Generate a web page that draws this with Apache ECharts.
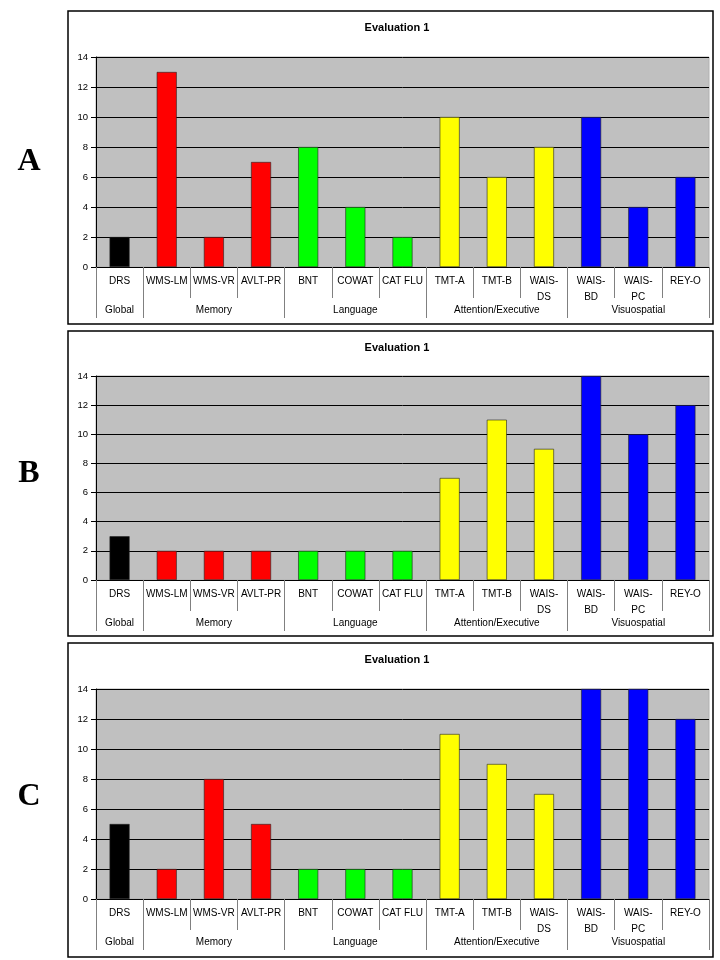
<!DOCTYPE html>
<html>
<head>
<meta charset="utf-8">
<script src="https://cdn.jsdelivr.net/npm/echarts@6/dist/echarts.min.js"></script>
<style>
html,body{margin:0;padding:0;background:#fff;}
#chart{width:720px;height:960px;}
</style>
</head>
<body>
<div id="chart"></div>
<script>
var categories = ['DRS','WMS-LM','WMS-VR','AVLT-PR','BNT','COWAT','CAT FLU','TMT-A','TMT-B','WAIS-DS','WAIS-BD','WAIS-PC','REY-O'];
var categoryGroup = ['Global','Memory','Memory','Memory','Language','Language','Language','Attention/Executive','Attention/Executive','Attention/Executive','Visuospatial','Visuospatial','Visuospatial'];
var groupNames = ['Global','Memory','Language','Attention/Executive','Visuospatial'];
var groupColors = ['#000000','#FF0000','#00FF00','#FFFF00','#0000FF'];
var panelLetters = ['A','B','C'];
var panelTitle = 'Evaluation 1';
var valuesA = [2,13,2,7,8,4,2,10,6,8,10,4,6];
var valuesB = [3,2,2,2,2,2,2,7,11,9,14,10,12];
var valuesC = [5,2,8,5,2,2,2,11,9,7,14,14,12];
var yTicks = [0,2,4,6,8,10,12,14];

var panels = [
  {values: valuesA, box:[68,11,645,313], grid:{top:57, bottom:693}, title:17, letterY:162},
  {values: valuesB, box:[68,331,645,305], grid:{top:376, bottom:380}, title:337, letterY:474},
  {values: valuesC, box:[68,643,645,314], grid:{top:689, bottom:61}, title:649, letterY:797}
];

// group start / middle indices derived from the category grouping
var groupStart = {}, groupMid = {};
groupNames.forEach(function(g){
  var idx = [];
  categoryGroup.forEach(function(cg,i){ if(cg===g) idx.push(i); });
  groupStart[idx[0]] = true;
  groupMid[idx[Math.floor(idx.length/2)]] = g;
});

var FONT = '"Liberation Sans", Arial, sans-serif';
var chart = echarts.init(document.getElementById('chart'), null, {renderer:'canvas'});

var grids = [], xAxes = [], yAxes = [], series = [], titles = [], graphics = [];
panels.forEach(function(p, k){
  grids.push({left:96, right:11, top:p.grid.top, bottom:p.grid.bottom, show:true,
    backgroundColor:'#C0C0C0', borderColor:'#B0B0B0', borderWidth:1, containLabel:false});
  xAxes.push({
    type:'category', gridIndex:k, data:categories, position:'bottom',
    axisLine:{show:true, lineStyle:{color:'#000', width:1}},
    axisTick:{show:true, interval:0, length:31, lineStyle:{color:'#808080', width:1}},
    axisLabel:{interval:0, margin:6, fontFamily:FONT, fontSize:10, color:'#000', lineHeight:16,
      formatter:function(v){ return v.replace('WAIS-','WAIS-\n'); }},
    splitLine:{show:false}
  });
  xAxes.push({
    type:'category', gridIndex:k, data:categories, position:'bottom',
    axisLine:{show:false},
    axisTick:{show:true, length:51, interval:function(i){ return !!groupStart[i]; },
      lineStyle:{color:'#808080', width:1}},
    axisLabel:{margin:38, fontFamily:FONT, fontSize:10, color:'#000',
      interval:function(i){ return groupMid[i] !== undefined; },
      formatter:function(v, i){ return categoryGroup[i]; }},
    splitLine:{show:false}
  });
  yAxes.push({
    type:'value', gridIndex:k, min:yTicks[0], max:yTicks[yTicks.length-1], interval:2,
    axisLine:{show:true, lineStyle:{color:'#000', width:1}},
    axisTick:{show:true, length:5, lineStyle:{color:'#000'}},
    axisLabel:{fontFamily:FONT, fontSize:9.5, color:'#000', margin:8},
    splitLine:{show:true, lineStyle:{color:'#000', width:1}}
  });
  series.push({
    type:'bar', xAxisIndex:2*k, yAxisIndex:k, barWidth:20, animation:false,
    data:p.values.map(function(v,i){
      return {value:v, itemStyle:{color:groupColors[groupNames.indexOf(categoryGroup[i])]}};
    }),
    itemStyle:{borderColor:'#222', borderWidth:0.6}
  });
  titles.push({text:panelTitle, left:392, top:p.title, textAlign:'center',
    textStyle:{fontFamily:FONT, fontSize:11, fontWeight:'bold', color:'#000'}});
  graphics.push({type:'rect', shape:{x:p.box[0], y:p.box[1], width:p.box[2], height:p.box[3]},
    style:{fill:'none', stroke:'#000', lineWidth:1.5}, z:-1});
  graphics.push({type:'text', x:29, y:p.letterY, style:{text:panelLetters[k], fontFamily:'"Liberation Serif","DejaVu Serif",serif',
    fontSize:32, fontWeight:'bold', fill:'#000', align:'center', verticalAlign:'middle'}});
});

chart.setOption({
  animation:false,
  title:titles,
  grid:grids,
  xAxis:xAxes,
  yAxis:yAxes,
  series:series,
  graphic:graphics
});
</script>
</body>
</html>
